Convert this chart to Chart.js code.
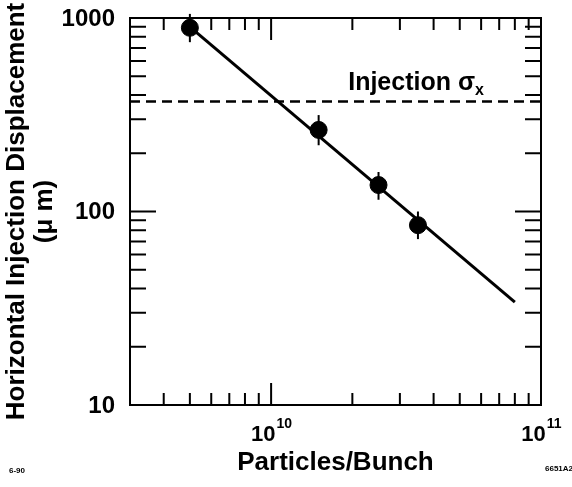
<!DOCTYPE html>
<html>
<head>
<meta charset="utf-8">
<script src="https://cdn.jsdelivr.net/npm/chart.js@4"></script>
<style>
  body { margin: 0; background: #fff; }
  #wrap { width: 572px; height: 487px; position: relative; }
</style>
</head>
<body>
<div id="wrap"><canvas id="chart1"></canvas></div>
<script>
// measured points (particles per bunch vs displacement in microns)
var particles = [5e9, 1.5e10, 2.5e10, 3.5e10];
var displacement = [890, 264, 137, 85];
var errHigh = [1050, 315, 160, 100];
var errLow = [750, 220, 115, 72];

// fitted line
var fitX = [5e9, 8e10];
var fitY = [900, 34];

// injection sigma level
var sigmaX = 370;

var xRange = [3e9, 1e11];
var yRange = [10, 1000];

var xMajor = [1e10, 1e11];
var xLabelBase = ['10', '10'];
var xLabelExp = ['10', '11'];
var xMinor = [4e9, 5e9, 6e9, 7e9, 8e9, 9e9, 2e10, 3e10, 4e10, 5e10, 6e10, 7e10, 8e10, 9e10];
var yMajor = [10, 100, 1000];
var yLabels = ['10', '100', '1000'];
var yMinor = [20, 30, 40, 50, 60, 70, 80, 90, 200, 300, 400, 500, 600, 700, 800, 900];

var FONT = '"Liberation Sans", Arial, Helvetica, sans-serif';

var framePlugin = {
  id: 'frame',
  afterDatasetsDraw: function(chart) {
    var ctx = chart.ctx;
    var a = chart.chartArea;
    var xs = chart.scales.x, ys = chart.scales.y;
    ctx.save();
    ctx.strokeStyle = '#000';
    ctx.fillStyle = '#000';

    // error bars
    ctx.lineWidth = 2;
    particles.forEach(function(p, i) {
      var px = xs.getPixelForValue(p);
      ctx.beginPath();
      ctx.moveTo(px, ys.getPixelForValue(errHigh[i]));
      ctx.lineTo(px, ys.getPixelForValue(errLow[i]));
      ctx.stroke();
    });

    // frame
    ctx.lineWidth = 2;
    ctx.strokeRect(a.left, a.top, a.right - a.left, a.bottom - a.top);

    // ticks inside on all sides
    function xTick(v, len) {
      var px = xs.getPixelForValue(v);
      ctx.beginPath();
      ctx.moveTo(px, a.bottom); ctx.lineTo(px, a.bottom - len);
      ctx.moveTo(px, a.top); ctx.lineTo(px, a.top + len);
      ctx.stroke();
    }
    function yTick(v, len) {
      var py = ys.getPixelForValue(v);
      ctx.beginPath();
      ctx.moveTo(a.left, py); ctx.lineTo(a.left + len, py);
      ctx.moveTo(a.right, py); ctx.lineTo(a.right - len, py);
      ctx.stroke();
    }
    xMinor.forEach(function(v) { xTick(v, 12); });
    xMajor.forEach(function(v) { xTick(v, 22); });
    yMinor.forEach(function(v) { yTick(v, 16); });
    yMajor.forEach(function(v) { yTick(v, 26); });

    // y tick labels
    ctx.font = 'bold 24px ' + FONT;
    ctx.textAlign = 'right';
    ctx.textBaseline = 'middle';
    yMajor.forEach(function(v, i) {
      ctx.fillText(yLabels[i], a.left - 15, ys.getPixelForValue(v) + 1);
    });

    // x tick labels as powers of ten
    xMajor.forEach(function(v, i) {
      var px = xs.getPixelForValue(v);
      ctx.font = 'bold 22px ' + FONT;
      var wb = ctx.measureText(xLabelBase[i]).width;
      ctx.font = 'bold 14px ' + FONT;
      var we = ctx.measureText(xLabelExp[i]).width;
      var x0 = px - (wb + we) / 2;
      ctx.textAlign = 'left';
      ctx.textBaseline = 'alphabetic';
      ctx.font = 'bold 22px ' + FONT;
      ctx.fillText(xLabelBase[i], x0, 441);
      ctx.font = 'bold 14px ' + FONT;
      ctx.fillText(xLabelExp[i], x0 + wb + 1, 428);
    });

    // Injection sigma_x label
    var lx = xs.getPixelForValue(1.93e10);
    var ly = ys.getPixelForValue(425);
    ctx.textAlign = 'left';
    ctx.textBaseline = 'alphabetic';
    ctx.font = 'bold 25px ' + FONT;
    var t1 = 'Injection ';
    ctx.fillText(t1, lx, ly);
    var w1 = ctx.measureText(t1).width;
    ctx.fillText('\u03c3', lx + w1, ly);
    var w2 = ctx.measureText('\u03c3').width;
    ctx.font = 'bold 16px ' + FONT;
    ctx.fillText('x', lx + w1 + w2, ly + 5);

    // figure codes
    ctx.font = 'bold 8px ' + FONT;
    ctx.fillText('6-90', 9, 473);
    ctx.fillText('6651A2', 545, 471);

    ctx.restore();
  }
};

new Chart('chart1', {
  type: 'scatter',
  data: {
    datasets: [
      {
        label: 'fit',
        type: 'line',
        data: fitX.map(function(x, i) { return {x: x, y: fitY[i]}; }),
        borderColor: '#000',
        borderWidth: 3,
        pointRadius: 0,
        fill: false,
        clip: false
      },
      {
        label: 'sigma',
        type: 'line',
        data: [{x: xRange[0], y: sigmaX}, {x: xRange[1], y: sigmaX}],
        borderColor: '#000',
        borderWidth: 2.5,
        borderDash: [10, 6],
        pointRadius: 0,
        fill: false
      },
      {
        label: 'data',
        data: particles.map(function(x, i) { return {x: x, y: displacement[i]}; }),
        backgroundColor: '#000',
        borderColor: '#000',
        pointRadius: 8.5,
        clip: false
      }
    ]
  },
  options: {
    responsive: true,
    maintainAspectRatio: false,
    animation: false,
    layout: {padding: {top: 18, right: 31, left: 0, bottom: 0}},
    plugins: {legend: {display: false}, tooltip: {enabled: false}},
    scales: {
      x: {
        type: 'logarithmic',
        min: xRange[0],
        max: xRange[1],
        ticks: {display: false},
        grid: {display: false, drawTicks: false},
        border: {display: false},
        title: {
          display: true,
          text: 'Particles/Bunch',
          color: '#000',
          font: {family: FONT, size: 26, weight: 'bold'},
          padding: {top: 0, bottom: 9}
        },
        afterFit: function(s) { s.height = 82; }
      },
      y: {
        type: 'logarithmic',
        min: yRange[0],
        max: yRange[1],
        ticks: {display: false},
        grid: {display: false, drawTicks: false},
        border: {display: false},
        title: {
          display: true,
          text: ['Horizontal Injection Displacement', '(\u03bc m)'],
          color: '#000',
          font: {family: FONT, size: 26, weight: 'bold', lineHeight: 1.08},
          padding: {top: 3, bottom: 0}
        },
        afterFit: function(s) { s.width = 130; }
      }
    }
  },
  plugins: [framePlugin]
});
</script>
</body>
</html>
